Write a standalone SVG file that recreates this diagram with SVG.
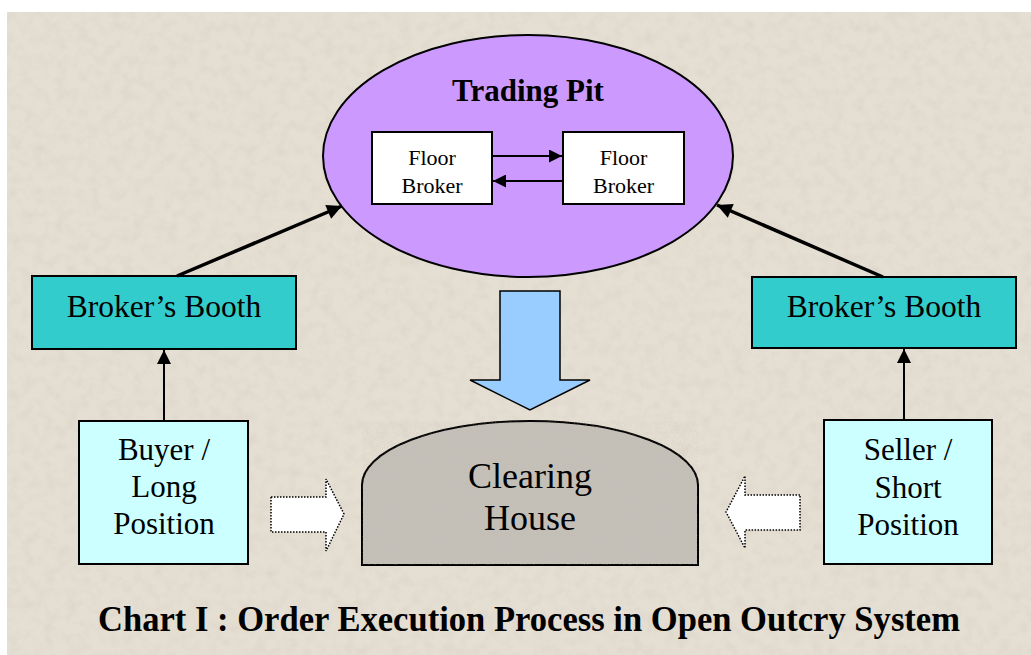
<svg xmlns="http://www.w3.org/2000/svg" width="1031" height="655" viewBox="0 0 1031 655">
  <defs>
    <style>
      .lbl { font-family: "Liberation Serif", "Times New Roman", serif; fill: #000; text-anchor: middle; }
      .box { stroke: #000; stroke-width: 2; }
      .booth { fill: #33CCCC; }
      .party { fill: #CCFFFF; }
      .wire { stroke: #000; fill: none; }
      .thin { stroke-width: 2; }
      .mid { stroke-width: 2; }
      .thick { stroke-width: 3.5; }
      .hollow { fill: #FFFFFF; stroke: #000; stroke-width: 1.5; stroke-dasharray: 1.5 1.5; }
    </style>
    <!-- arrowheads in three sizes -->
    <marker id="headS" viewBox="0 0 10 10" refX="10" refY="5" markerUnits="userSpaceOnUse" markerWidth="15" markerHeight="13" orient="auto">
      <path d="M0,0 L10,5 L0,10 Z" fill="#000"/>
    </marker>
    <marker id="headM" viewBox="0 0 10 10" refX="10" refY="5" markerUnits="userSpaceOnUse" markerWidth="15" markerHeight="14" orient="auto">
      <path d="M0,0 L10,5 L0,10 Z" fill="#000"/>
    </marker>
    <marker id="headL" viewBox="0 0 10 10" refX="10" refY="5" markerUnits="userSpaceOnUse" markerWidth="17" markerHeight="15" orient="auto">
      <path d="M0,0 L10,5 L0,10 Z" fill="#000"/>
    </marker>
    <!-- stone-like paper grain for the backdrop -->
    <filter id="grain" x="0" y="0" width="100%" height="100%">
      <feTurbulence type="fractalNoise" baseFrequency="0.09" numOctaves="3" seed="7" result="n"/>
      <feColorMatrix in="n" type="matrix" values="0 0 0 0 0.55  0 0 0 0 0.5  0 0 0 0 0.43  0.9 0 0 0 -0.38"/>
    </filter>
    <filter id="speck" x="0" y="0" width="100%" height="100%">
      <feTurbulence type="fractalNoise" baseFrequency="0.9" numOctaves="1" seed="2" result="n"/>
      <feColorMatrix in="n" type="matrix" values="0 0 0 0 0.5  0 0 0 0 0.48  0 0 0 0 0.45  1.4 0 0 0 -0.62"/>
    </filter>
  </defs>

  <!-- backdrop -->
  <rect x="0" y="0" width="1031" height="655" fill="#FFFFFF"/>
  <rect x="7" y="12" width="1024" height="643" fill="#E5DED2"/>
  <rect x="7" y="12" width="1024" height="643" filter="url(#grain)" opacity="0.5"/>

  <g id="trading-pit">
    <ellipse cx="528" cy="156" rx="205" ry="121" fill="#CC99FF" stroke="#000" stroke-width="2"/>
    <text class="lbl" x="528" y="101" font-size="31" font-weight="bold">Trading Pit</text>
  </g>

  <g id="floor-broker-a">
    <rect class="box" x="372" y="132" width="120" height="72" fill="#FFFFFF"/>
    <text class="lbl" x="432" y="165" font-size="22">Floor</text>
    <text class="lbl" x="432" y="193" font-size="22">Broker</text>
  </g>

  <g id="floor-broker-b">
    <rect class="box" x="563" y="132" width="121" height="72" fill="#FFFFFF"/>
    <text class="lbl" x="623.5" y="165" font-size="22">Floor</text>
    <text class="lbl" x="623.5" y="193" font-size="22">Broker</text>
  </g>

  <g id="booth-buy">
    <rect class="box booth" x="32" y="276" width="264" height="73"/>
    <text class="lbl" x="164" y="317" font-size="31.5">Broker’s Booth</text>
  </g>

  <g id="booth-sell">
    <rect class="box booth" x="752" y="277" width="264" height="71"/>
    <text class="lbl" x="884" y="317" font-size="31.5">Broker’s Booth</text>
  </g>

  <g id="buyer">
    <rect class="box party" x="79" y="421" width="169" height="143"/>
    <text class="lbl" x="164" y="460" font-size="31">Buyer /</text>
    <text class="lbl" x="164" y="497" font-size="31">Long</text>
    <text class="lbl" x="164" y="534" font-size="31">Position</text>
  </g>

  <g id="seller">
    <rect class="box party" x="824" y="420" width="168" height="144"/>
    <text class="lbl" x="908" y="460" font-size="31">Seller /</text>
    <text class="lbl" x="908" y="498" font-size="31">Short</text>
    <text class="lbl" x="908" y="535" font-size="31">Position</text>
  </g>

  <g id="clearing-house">
    <path d="M362,565 V485 A168,64 0 0 1 698,485 V565 Z" fill="#C4C0B8" stroke="#000" stroke-width="2"/>
    <path d="M362,565 V485 A168,64 0 0 1 698,485 V565 Z" filter="url(#speck)" opacity="0.5"/>
    <text class="lbl" x="530" y="488" font-size="36">Clearing</text>
    <text class="lbl" x="530" y="530" font-size="36">House</text>
  </g>

  <!-- connectors, drawn over the nodes -->
  <g id="connectors">
    <line class="wire thin" x1="492" y1="156" x2="562" y2="156" marker-end="url(#headS)"/>
    <line class="wire thin" x1="563" y1="181" x2="493" y2="181" marker-end="url(#headS)"/>
    <line class="wire thick" x1="177" y1="276" x2="342" y2="206" marker-end="url(#headL)"/>
    <line class="wire thick" x1="883" y1="277" x2="717" y2="205" marker-end="url(#headL)"/>
    <line class="wire mid" x1="164" y1="421" x2="164" y2="350" marker-end="url(#headM)"/>
    <line class="wire mid" x1="904" y1="420" x2="904" y2="349" marker-end="url(#headM)"/>
    <!-- block arrow from the pit down to the clearing house -->
    <path id="flow-down" d="M500,291 H560 V380 H590 L530,410 L470,380 H500 Z" fill="#99CCFF" stroke="#000" stroke-width="1.5"/>
    <!-- open arrows from each party into the clearing house -->
    <path id="flow-buyer" class="hollow" d="M271,497 H326 V479 L344,514 L326,551 V532 H271 Z"/>
    <path id="flow-seller" class="hollow" d="M800,495 H745 V476 L726,512 L745,548 V530 H800 Z"/>
  </g>

  <text id="caption" class="lbl" x="529" y="631" font-size="35" font-weight="bold" textLength="862" lengthAdjust="spacingAndGlyphs">Chart I : Order Execution Process in Open Outcry System</text>
</svg>
